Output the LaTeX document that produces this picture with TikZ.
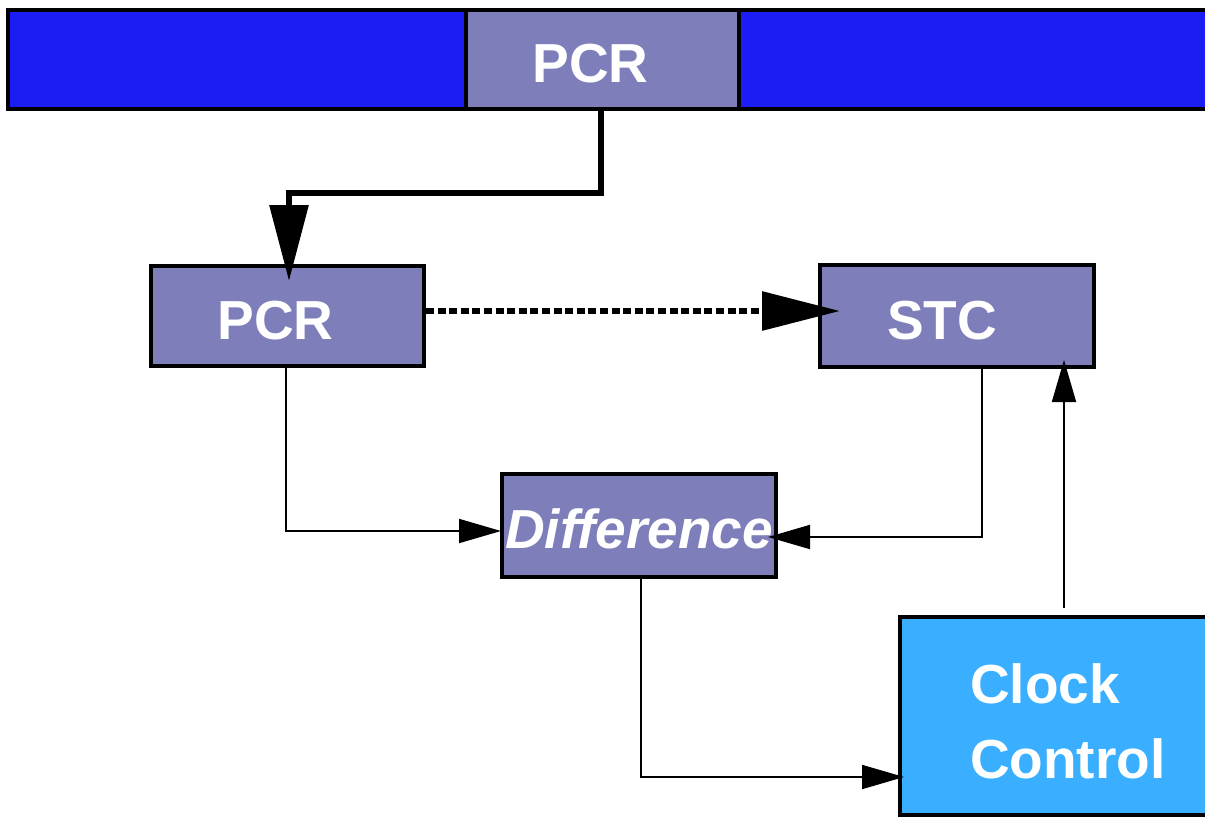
\documentclass[tikz,border=0pt]{standalone}
\usepackage{fontspec}
\setmainfont{Liberation Sans}
\usetikzlibrary{arrows.meta}
\definecolor{barblue}{RGB}{28,28,245}
\definecolor{boxpurple}{RGB}{126,126,186}
\definecolor{clockblue}{RGB}{58,175,255}
\tikzset{
  box/.style={draw=black, line width=4pt, fill=boxpurple, inner sep=0pt,
    text=white, font=\fontsize{55}{66}\selectfont\bfseries, text height=46.5pt, text depth=0pt},
  thickline/.style={line width=6pt, -{Triangle[length=76pt,width=38pt]}},
  dotline/.style={line width=6pt, dash pattern=on 8pt off 3.6pt, -{Triangle[length=78pt,width=38pt]}},
  thinline/.style={line width=1.8pt, -{Triangle[length=42pt,width=24pt]}},
}
\begin{document}
\begin{tikzpicture}[x=1pt,y=-1pt]
\useasboundingbox (0,0) rectangle (1205,817);
% top bar
\node[draw=black, line width=4pt, fill=barblue, inner sep=0pt,
  minimum width=1207pt, minimum height=99pt] (bar) at (611.5,59.5) {};
\node[box, minimum width=273pt, minimum height=99pt] (pcrtop) at (602.5,59.5) {PCR\kern24pt};
% boxes
\node[box, minimum width=273pt, minimum height=100pt] (pcr) at (287.5,316) {PCR\kern24pt};
\node[box, minimum width=274pt, minimum height=102pt] (stc) at (957,316) {STC\kern30pt};
\node[box, minimum width=274pt, minimum height=103pt, font=\fontsize{55}{66}\selectfont\bfseries\itshape] (diff) at (639,525.5) {Difference};
\node[draw=black, line width=4pt, fill=clockblue, inner sep=0pt,
  minimum width=315pt, minimum height=198pt, text width=175pt, align=left,
  text=white, font=\fontsize{55}{75}\selectfont\bfseries, text height=50pt] (clock) at (1057.5,716) {Clock\\Control};
% connectors
\coordinate (bend) at (601,193);
\draw[thickline, shorten >=-17pt] ([xshift=-1.5pt]pcrtop.south) |- (bend) -| ([xshift=1.5pt]pcr.north);
\draw[dotline, shorten >=-22pt] ([yshift=5pt]pcr.east) -- ([yshift=5pt]stc.west);
\draw[thinline] ([xshift=-1.5pt]pcr.south) |- ([yshift=-5.5pt,xshift=1pt]diff.west);
\draw[thinline, shorten >=-10pt] ([xshift=25pt]stc.south) |- ([yshift=-11.5pt]diff.east);
\draw[thinline, shorten >=-6pt] ([xshift=2pt]diff.south) |- ([yshift=-61pt]clock.west);
\draw[thinline, shorten <=7pt, shorten >=-9pt] ([xshift=6.5pt]clock.north) -- ([xshift=6.5pt]clock.north |- stc.south);
\end{tikzpicture}
\end{document}
